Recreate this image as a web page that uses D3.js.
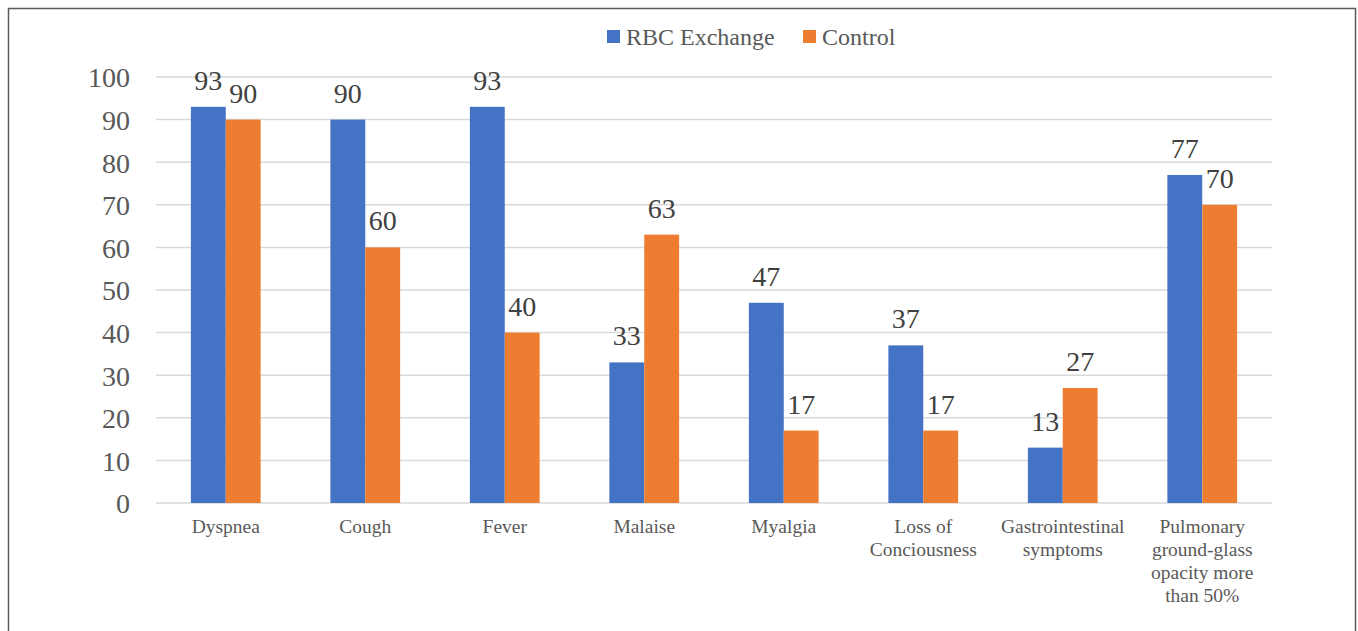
<!DOCTYPE html>
<html>
<head>
<meta charset="utf-8">
<script src="https://cdn.jsdelivr.net/npm/d3@7"></script>
<style>
  body { margin: 0; background: #fff; }
  svg { display: block; }
  svg text { font-family: "Liberation Serif", "Times New Roman", serif; }
</style>
</head>
<body>
<svg id="chart"></svg>
<script>
// data
var categories = ["Dyspnea", "Cough", "Fever", "Malaise", "Myalgia",
                  "Loss of Conciousness", "Gastrointestinal symptoms",
                  "Pulmonary ground-glass opacity more than 50%"]
var categoryLines = [["Dyspnea"], ["Cough"], ["Fever"], ["Malaise"], ["Myalgia"],
                     ["Loss of", "Conciousness"], ["Gastrointestinal", "symptoms"],
                     ["Pulmonary", "ground-glass", "opacity more", "than 50%"]]
var seriesNames = ["RBC Exchange", "Control"]
var rbcValues = [93, 90, 93, 33, 47, 37, 13, 77]
var controlValues = [90, 60, 40, 63, 17, 17, 27, 70]
var yTicks = [0, 10, 20, 30, 40, 50, 60, 70, 80, 90, 100]
var colors = ["#4472C4", "#ED7D31"]

var W = 1358, H = 631
var margin = {top: 77, right: 86, bottom: 128, left: 156},
    width = W - margin.left - margin.right,
    height = H - margin.top - margin.bottom

var root = d3.select("#chart").attr("width", W).attr("height", H)

// outer frame
root.append("rect")
    .attr("x", 8.5).attr("y", 8.5)
    .attr("width", 1347).attr("height", 640)
    .attr("fill", "none").attr("stroke", "#5a5a5a").attr("stroke-width", 1.5)

var svg = root.append("g")
    .attr("transform", "translate(" + margin.left + "," + margin.top + ")")

var x = d3.scaleBand().domain(categories).range([0, width]).paddingInner(0.5).paddingOuter(0.25)
var xSub = d3.scaleBand().domain(seriesNames).range([0, x.bandwidth()])
var y = d3.scaleLinear().domain([0, 100]).range([height, 0])

// gridlines
svg.append("g").selectAll("line")
    .data(yTicks)
    .enter().append("line")
    .attr("x1", 0).attr("x2", width)
    .attr("y1", function (d) { return y(d) }).attr("y2", function (d) { return y(d) })
    .attr("stroke", "#d9d9d9").attr("stroke-width", 1.5)

// y axis labels
var yAxis = svg.append("g")
    .attr("transform", "translate(-26,0)")
    .call(d3.axisLeft(y).tickValues(yTicks).tickSize(0).tickPadding(0))
yAxis.attr("font-family", null).attr("font-size", null)
yAxis.select(".domain").remove()
yAxis.selectAll("text")
    .attr("font-size", "28px")
    .attr("fill", "#595959")
    .attr("dy", "0.35em")

var rows = categories.map(function (c, i) {
    return {cat: c, values: [
        {name: seriesNames[0], value: rbcValues[i], color: colors[0]},
        {name: seriesNames[1], value: controlValues[i], color: colors[1]}]}
})

var groups = svg.append("g").selectAll("g")
    .data(rows)
    .enter().append("g")
    .attr("transform", function (d) { return "translate(" + x(d.cat) + ",0)" })

groups.selectAll("rect")
    .data(function (d) { return d.values })
    .enter().append("rect")
    .attr("x", function (d) { return xSub(d.name) })
    .attr("width", xSub.bandwidth())
    .attr("y", function (d) { return y(d.value) })
    .attr("height", function (d) { return height - y(d.value) })
    .attr("fill", function (d) { return d.color })

groups.selectAll("text.val")
    .data(function (d) { return d.values })
    .enter().append("text")
    .attr("class", "val")
    .attr("x", function (d) { return xSub(d.name) + xSub.bandwidth() / 2 })
    .attr("y", function (d) { return y(d.value) - 17 })
    .attr("text-anchor", "middle")
    .attr("font-size", "28px")
    .attr("fill", "#404040")
    .text(function (d) { return d.value })

// category labels
var catLabels = svg.append("g").selectAll("text")
    .data(categories)
    .enter().append("text")
    .attr("x", function (d) { return x(d) + x.bandwidth() / 2 })
    .attr("y", height + 30)
    .attr("text-anchor", "middle")
    .attr("font-size", "19.5px")
    .attr("fill", "#595959")

catLabels.each(function (d, i) {
    var t = d3.select(this)
    categoryLines[i].forEach(function (line, j) {
        t.append("tspan")
            .attr("x", x(d) + x.bandwidth() / 2)
            .attr("dy", j === 0 ? 0 : 23)
            .text(line)
    })
})

// legend
var legend = root.append("g").attr("transform", "translate(607,37)")
var legendX = [0, 196]
seriesNames.forEach(function (name, i) {
    var g = legend.append("g").attr("transform", "translate(" + legendX[i] + ",0)")
    g.append("rect").attr("x", 0).attr("y", -7).attr("width", 13).attr("height", 13).attr("fill", colors[i])
    g.append("text")
        .attr("x", 19).attr("y", 0).attr("dy", "0.35em")
        .attr("font-size", "24px")
        .attr("fill", "#595959")
        .text(name)
})
</script>
</body>
</html>
